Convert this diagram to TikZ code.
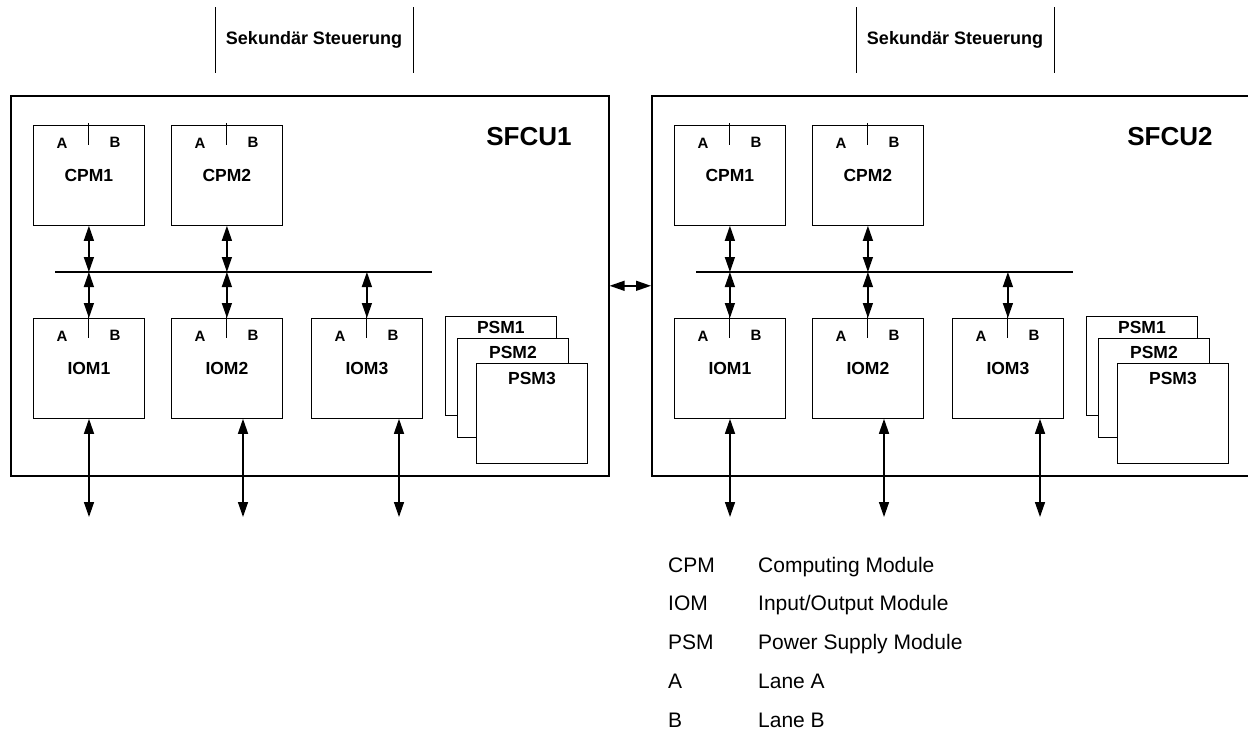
\documentclass[tikz,border=0pt]{standalone}
\usepackage{fontspec}
\setmainfont{Liberation Sans}
\usetikzlibrary{arrows.meta,positioning}

\begin{document}
\begin{tikzpicture}[x=1pt, y=-1pt,
    unit/.style={draw, line width=1.6pt, minimum width=598pt, minimum height=380pt, inner sep=0pt, anchor=north west},
    module/.style={draw, line width=0.8pt, minimum width=111pt, minimum height=100pt, inner sep=0pt, anchor=north west, font=\bfseries\fontsize{17.5}{20}\selectfont},
    psmbox/.style={module, fill=white, minimum height=99pt},
    psmtext/.style={inner sep=0pt, font=\bfseries\fontsize{17.5}{20}\selectfont},
    lane/.style={inner sep=0pt, font=\bfseries\fontsize{15}{18}\selectfont},
    title/.style={font=\bfseries\fontsize{26}{30}\selectfont},
    ctrl/.style={font=\bfseries\fontsize{18}{21}\selectfont},
    legend/.style={anchor=base west, inner sep=0pt, font=\fontsize{21}{24}\selectfont},
    biarrow/.style={{Triangle[length=15pt,width=10pt]}-{Triangle[length=15pt,width=10pt]}, line width=1.4pt},
    bus/.style={line width=1.6pt}]

    \useasboundingbox (0,0) rectangle (1248,729);

    \foreach \u/\dx in {1/0, 2/641} {
      \begin{scope}[xshift=\dx]
        % Housing of the unit and its name
        \node[unit] (sfcu\u) at (10,95) {};
        \node[title] (name\u) at (529,137) {SFCU\u};

        % Secondary control above the unit
        \node[ctrl] (sek\u) at (314,40) {Sekundär Steuerung};
        \draw[line width=0.8pt] (215,7) -- (215,73);
        \draw[line width=0.8pt] (413,7) -- (413,73);

        % Computing and I/O modules
        \node[module] (cpm1-\u) at (33,125) {CPM1};
        \node[module] (cpm2-\u) at (171,125) {CPM2};
        \node[module] (iom1-\u) at (33,318) {IOM1};
        \node[module] (iom2-\u) at (171,318) {IOM2};
        \node[module] (iom3-\u) at (311,318) {IOM3};

        % Lanes A and B in every module
        \foreach \m in {cpm1,cpm2,iom1,iom2,iom3} {
          \draw[line width=1pt] ([yshift=2pt]\m-\u.north) -- ++(0,22);
          \node[lane] (\m-\u-a) at ([xshift=29pt,yshift=-18pt]\m-\u.north west) {A};
          \node[lane] (\m-\u-b) at ([xshift=82pt,yshift=-17pt]\m-\u.north west) {B};
        }

        % Power supply modules, stacked
        \node[psmbox] (psm1-\u) at (445,316) {};
        \node[psmtext] (psm1-\u-t) at ([yshift=-11pt]psm1-\u.north) {PSM1};
        \node[psmbox] (psm2-\u) at (457,338) {};
        \node[psmtext] (psm2-\u-t) at ([yshift=-14pt]psm2-\u.north) {PSM2};
        \node[psmbox, minimum height=100pt] (psm3-\u) at (476,363) {};
        \node[psmtext] (psm3-\u-t) at ([yshift=-15pt]psm3-\u.north) {PSM3};

        % Internal bus
        \coordinate (busL\u) at (55,272);
        \coordinate (busR\u) at (432,272);
        \draw[bus] (busL\u) -- (busR\u);

        \foreach \m in {cpm1,cpm2}
          \draw[biarrow] (\m-\u.south) -- (\m-\u.south |- busL\u);
        \foreach \m in {iom1,iom2,iom3}
          \draw[biarrow] (\m-\u.north) -- (\m-\u.north |- busL\u);

        % External lines of the I/O modules
        \coordinate (out1-\u) at (89,517);
        \coordinate (out2-\u) at (243,517);
        \coordinate (out3-\u) at (399,517);
        \foreach \i in {1,2,3}
          \draw[biarrow] (iom\i-\u.south -| out\i-\u) -- (out\i-\u);
      \end{scope}
    }

    % Link between the two units
    \draw[biarrow] (sfcu1.east) -- (sfcu2.west);

    % Legend
    \foreach \k/\t [count=\i] in {CPM/Computing Module, IOM/{Input/Output Module}, PSM/Power Supply Module, A/Lane A, B/Lane B} {
      \node[legend] (key\i) at (668, 533.25+38.75*\i) {\k};
      \node[legend] (txt\i) at (758, 533.25+38.75*\i) {\t};
    }
\end{tikzpicture}
\end{document}
